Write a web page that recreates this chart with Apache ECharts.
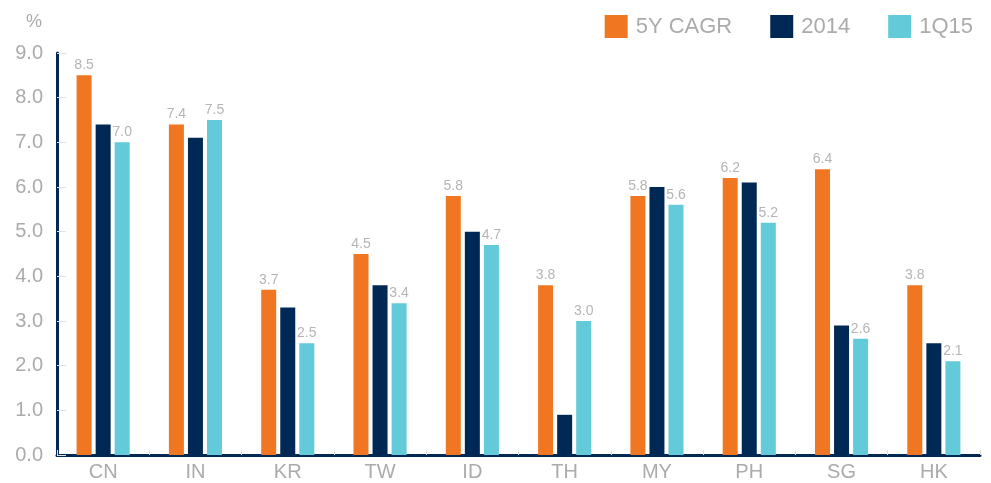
<!DOCTYPE html>
<html><head><meta charset="utf-8">
<script src="https://cdn.jsdelivr.net/npm/echarts@6/dist/echarts.min.js"></script>
<style>html,body{margin:0;padding:0;background:#fff}#c{width:991px;height:483px}</style>
</head><body><div id="c"></div>
<script>
var categories = ['CN','IN','KR','TW','ID','TH','MY','PH','SG','HK'];
var cagr5y = [8.5,7.4,3.7,4.5,5.8,3.8,5.8,6.2,6.4,3.8];
var y2014 = [7.4,7.1,3.3,3.8,5.0,0.9,6.0,6.1,2.9,2.5];
var q115 = [7.0,7.5,2.5,3.4,4.7,3.0,5.6,5.2,2.6,2.1];
var seriesNames = ['5Y CAGR','2014','1Q15'];
var colors = ['#F07622','#002855','#62CAD8'];
var font = 'Liberation Sans';
var grey = '#ababab';
var chart = echarts.init(document.getElementById('c'));
function lbl(show){
  return {show: show, position: 'top', distance: 3, color: '#b5b5b5', fontSize: 14, fontFamily: font,
    formatter: function(p){ return p.value.toFixed(1); }};
}
chart.setOption({
  animation: false,
  textStyle: {fontFamily: font},
  legend: {
    top: 10, right: 13, itemWidth: 23, itemHeight: 23, itemGap: 38,
    icon: 'rect',
    textStyle: {color: grey, fontSize: 22, fontFamily: font, padding: [0,0,0,3]},
    data: seriesNames
  },
  grid: {left: 57, right: 11, top: 53, bottom: 28, containLabel: false},
  xAxis: {
    type: 'category', data: categories,
    axisLine: {lineStyle: {color: '#002855', width: 3}},
    axisTick: {show: true, inside: true, length: 5, lineStyle: {color: '#dddddd'}},
    axisLabel: {color: grey, fontSize: 20, fontFamily: font, margin: 7}
  },
  yAxis: {
    type: 'value', min: 0, max: 9, interval: 1,
    name: '%', nameLocation: 'end', nameGap: 22,
    nameTextStyle: {color: grey, fontSize: 18, fontFamily: font, align: 'right', padding: [0, 15, 0, 0]},
    axisLine: {show: true, lineStyle: {color: '#002855', width: 3}},
    axisTick: {show: true, inside: true, length: 9, lineStyle: {color: '#e0e0e0'}},
    splitLine: {show: false},
    axisLabel: {color: grey, fontSize: 20, fontFamily: font, margin: 14,
      formatter: function(v){ return v.toFixed(1); }}
  },
  series: [
    {name: seriesNames[0], type: 'bar', data: cagr5y, barWidth: 15, barGap: '27%', itemStyle: {color: colors[0]}, label: lbl(true)},
    {name: seriesNames[1], type: 'bar', data: y2014, barWidth: 15, barGap: '27%', itemStyle: {color: colors[1]}, label: lbl(false)},
    {name: seriesNames[2], type: 'bar', data: q115, barWidth: 15, barGap: '27%', itemStyle: {color: colors[2]}, label: lbl(true)}
  ]
});
</script></body></html>
